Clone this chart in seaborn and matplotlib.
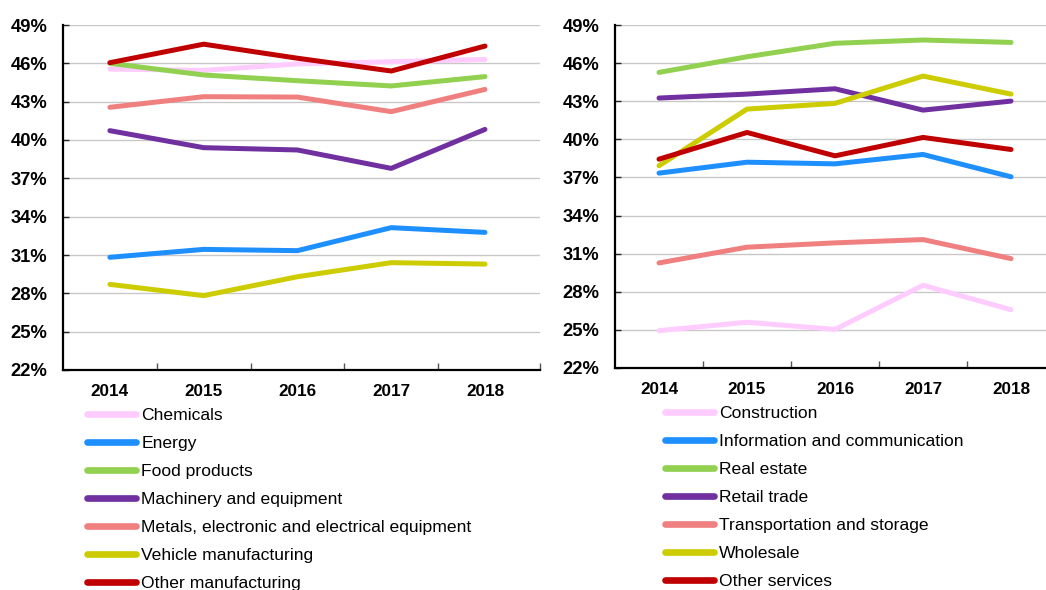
import matplotlib
matplotlib.use("Agg")
import matplotlib.pyplot as plt
import seaborn as sns
import pandas as pd
from matplotlib.ticker import FixedLocator, PercentFormatter

sns.set_theme(style="white")
plt.rcParams['font.family'] = ['Liberation Sans', 'DejaVu Sans']
plt.rcParams['text.color'] = 'black'

years = ["2014", "2015", "2016", "2017", "2018"]

# Left panel: manufacturing sectors (%)
left_names = ["Chemicals", "Energy", "Food products", "Machinery and equipment",
              "Metals, electronic and electrical equipment", "Vehicle manufacturing",
              "Other manufacturing"]
chemicals = [45.55, 45.45, 45.95, 46.13, 46.3]
energy = [30.82, 31.44, 31.34, 33.14, 32.77]
food_products = [46.0, 45.09, 44.64, 44.23, 44.96]
machinery = [40.73, 39.4, 39.22, 37.78, 40.83]
metals = [42.56, 43.39, 43.36, 42.22, 43.96]
vehicle = [28.7, 27.82, 29.3, 30.4, 30.29]
other_manufacturing = [46.05, 47.5, 46.4, 45.4, 47.35]
left_values = [chemicals, energy, food_products, machinery, metals, vehicle, other_manufacturing]

# Right panel: service sectors (%)
right_names = ["Construction", "Information and communication", "Real estate", "Retail trade",
               "Transportation and storage", "Wholesale", "Other services"]
construction = [24.94, 25.6, 25.04, 28.51, 26.59]
info_comm = [37.34, 38.2, 38.07, 38.81, 37.05]
real_estate = [45.27, 46.5, 47.56, 47.82, 47.63]
retail = [43.25, 43.56, 43.98, 42.3, 43.01]
transport = [30.27, 31.51, 31.85, 32.11, 30.61]
wholesale = [37.92, 42.38, 42.83, 44.98, 43.56]
other_services = [38.44, 40.54, 38.7, 40.15, 39.2]
right_values = [construction, info_comm, real_estate, retail, transport, wholesale, other_services]

colors = ["#FFCCFF", "#1E8FFF", "#92D050", "#7030A0", "#F08080", "#CCCC00", "#C00000"]
yticks = [22, 25, 28, 31, 34, 37, 40, 43, 46, 49]


def make_df(names, values):
    rows = []
    for n, vals in zip(names, values):
        for y, v in zip(years, vals):
            rows.append({"year": y, "sector": n, "value": v})
    return pd.DataFrame(rows)


fig = plt.figure(figsize=(10.46, 5.90), dpi=100)
W, H = 1046, 590
ax_l = fig.add_axes([63 / W, 1 - 370 / H, 477 / W, 345 / H])
ax_r = fig.add_axes([615 / W, 1 - 368 / H, 440 / W, 343 / H])


def draw(ax, names, values, xmax, extra_ticks):
    df = make_df(names, values)
    sns.lineplot(data=df, x="year", y="value", hue="sector", hue_order=names,
                 palette=colors, linewidth=3.6, ax=ax, legend=True, sort=False)
    ax.set_xlim(-0.5, xmax)
    ax.set_ylim(22, 49)
    ax.set_yticks(yticks)
    ax.yaxis.set_major_formatter(PercentFormatter(decimals=0))
    ax.set_xticks(range(len(years)))
    ax.set_xticklabels(years)
    ax.xaxis.set_minor_locator(FixedLocator([0.5, 1.5, 2.5, 3.5] + extra_ticks))
    ax.tick_params(axis="x", which="major", length=0, pad=10, labelsize=12.3)
    ax.tick_params(axis="x", which="minor", direction="in", length=5, width=1, color="#555555",
                   bottom=True)
    ax.tick_params(axis="y", which="major", direction="in", length=4, width=1, pad=11,
                   labelsize=13.2, left=True)
    for lab in ax.get_xticklabels() + ax.get_yticklabels():
        lab.set_fontweight("bold")
        lab.set_color("black")
    ax.grid(axis="y", color="#C8C8C8", linewidth=1.0)
    ax.set_axisbelow(True)
    for s in ["top", "right"]:
        ax.spines[s].set_visible(False)
    for s in ["left", "bottom"]:
        ax.spines[s].set_color("black")
        ax.spines[s].set_linewidth(1.6)
    ax.set_xlabel("")
    ax.set_ylabel("")
    handles, labels = ax.get_legend_handles_labels()
    ax.get_legend().remove()
    return handles, labels


hl, ll = draw(ax_l, left_names, left_values, 4.587, [4.587])
hr, lr = draw(ax_r, right_names, right_values, 4.5, [])

leg_kw = dict(loc="upper left", frameon=False, fontsize=12.6, handlelength=2.8,
              handletextpad=0.3, borderpad=0, borderaxespad=0, labelspacing=0.73,
              labelcolor="black")
for h in hl + hr:
    h.set_linewidth(4.8)
fig.legend(hl, ll, bbox_to_anchor=(87 / W, 1 - 408 / H), **leg_kw)
fig.legend(hr, lr, bbox_to_anchor=(665 / W, 1 - 406 / H), **leg_kw)

fig.savefig("out.png", dpi=100)
